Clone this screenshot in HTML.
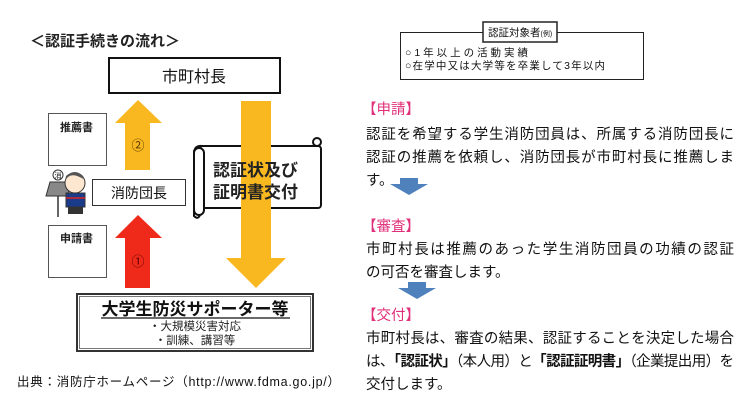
<!DOCTYPE html>
<html><head><meta charset="utf-8"><style>
html,body{margin:0;padding:0;background:#fff;}
svg{display:block}
text{font-family:"Liberation Sans","Noto Sans CJK JP",sans-serif;}
</style></head><body>
<svg width="750" height="412" viewBox="0 0 750 412" xmlns="http://www.w3.org/2000/svg">
<rect width="750" height="412" fill="#fff"/>
<text x="30" y="46" font-size="15" font-weight="bold" fill="#222">＜認証手続きの流れ＞</text>
<rect x="109" y="58" width="171" height="35" fill="#fff" stroke="#111" stroke-width="2"/>
<text x="194" y="82" font-size="16" text-anchor="middle" fill="#111">市町村長</text>
<rect x="48.5" y="113.5" width="58" height="52" fill="#fff" stroke="#555" stroke-width="1"/>
<text x="60" y="131" font-size="11" font-weight="bold" fill="#222">推薦書</text>
<polygon points="125,170 150,170 150,123 162,123 138,100 115,123 125,123" fill="#f9b820"/>
<text x="138" y="150" font-size="13" text-anchor="middle" fill="#553300">②</text>
<text x="256" y="134" font-size="13" text-anchor="middle" fill="#553300">③</text>
<path d="M200,150 L200,215 Q198,220 194,216 L194,151 Q196,145 202,146 L316,146 Q320,138 318,146" fill="none" stroke="#111" stroke-width="2"/>
<rect x="200" y="146" width="121" height="62" rx="3" fill="#fff" stroke="#111" stroke-width="2"/>
<rect x="194" y="148" width="10" height="67" rx="5" fill="#fff" stroke="#111" stroke-width="2"/>
<circle cx="317" cy="142" r="4" fill="#fff" stroke="#111" stroke-width="2"/>
<rect x="241" y="101" width="30" height="158" fill="#f9b820"/>
<polygon points="226,258 286,258 256,288" fill="#f9b820"/>
<text x="213" y="176" font-size="17" font-weight="bold" fill="#222">認証状及び</text>
<text x="213" y="198" font-size="17" font-weight="bold" fill="#222">証明書交付</text>
<g>
<circle cx="58" cy="175" r="5" fill="#fff" stroke="#333"/>
<text x="58" y="178" font-size="7" text-anchor="middle" fill="#111">消</text>
<polygon points="50,182 66,182 70,196 46,196" fill="#888" stroke="#333"/>
<line x1="58" y1="196" x2="58" y2="217" stroke="#333" stroke-width="1.5"/>
<circle cx="75" cy="183" r="10" fill="#fde7d0" stroke="#333"/>
<path d="M65,181 Q70,170 85,180 L83,176 Q75,168 66,176 Z" fill="#555"/>
<rect x="66" y="193" width="19" height="14" fill="#1a3a8a" stroke="#333"/>
<line x1="66" y1="198" x2="85" y2="198" stroke="#d22" stroke-width="1.5"/>
<rect x="68" y="207" width="15" height="7" fill="#333"/>
</g>
<rect x="92.5" y="179.5" width="93" height="26" fill="#fff" stroke="#333"/>
<text x="139" y="198" font-size="14" text-anchor="middle" fill="#111">消防団長</text>
<rect x="48.5" y="225.5" width="58" height="52" fill="#fff" stroke="#555"/>
<text x="60" y="242" font-size="11" font-weight="bold" fill="#222">申請書</text>
<polygon points="125,288 150,288 150,238 162,238 138,215 115,238 125,238" fill="#f02a1a"/>
<text x="138" y="266" font-size="13" text-anchor="middle" fill="#500">①</text>
<rect x="77" y="294" width="236" height="57" fill="#fff" stroke="#333" stroke-width="2"/>
<rect x="79.5" y="296.5" width="231" height="52" fill="none" stroke="#777" stroke-width="1"/>
<text x="195" y="315" font-size="17" font-weight="bold" text-anchor="middle" fill="#111">大学生防災サポーター等</text>
<line x1="101" y1="318" x2="290" y2="318" stroke="#111" stroke-width="1.2"/>
<text x="195" y="330" font-size="11.5" text-anchor="middle" fill="#222">・大規模災害対応</text>
<text x="195" y="344" font-size="11.5" text-anchor="middle" fill="#222">・訓練、講習等</text>
<text x="17" y="386" font-size="12.5" fill="#111" textLength="323">出典：消防庁ホームページ（http://www.fdma.go.jp/）</text>
<rect x="400.5" y="32.5" width="243" height="47" fill="#fff" stroke="#222"/>
<rect x="483" y="22" width="74" height="20" fill="#fff" stroke="#222" stroke-width="1.5"/>
<text x="488" y="36" font-size="10.5" fill="#111">認証対象者<tspan font-size="7">(例)</tspan></text>
<text x="405" y="56" font-size="10.5" fill="#111" textLength="123">○1年以上の活動実績</text>
<text x="405" y="69" font-size="10.5" fill="#111" textLength="200">○在学中又は大学等を卒業して3年以内</text>
<g font-size="14.5" fill="#111">
<text x="362" y="114" fill="#e0307a">【申請】</text>
<text x="366" y="139" textLength="368">認証を希望する学生消防団員は、所属する消防団長に</text>
<text x="366" y="162" textLength="368">認証の推薦を依頼し、消防団長が市町村長に推薦しま</text>
<text x="366" y="185">す。</text>
<text x="362" y="231" fill="#e0307a">【審査】</text>
<text x="366" y="254" textLength="368">市町村長は推薦のあった学生消防団員の功績の認証</text>
<text x="366" y="277">の可否を審査します。</text>
<text x="362" y="320" fill="#e0307a">【交付】</text>
<text x="366" y="343" textLength="368">市町村長は、審査の結果、認証することを決定した場合</text>
<text x="366" y="366" textLength="368">は、<tspan font-weight="bold">「認証状」</tspan>（本人用）と<tspan font-weight="bold">「認証証明書」</tspan>（企業提出用）を</text>
<text x="366" y="389">交付します。</text>
</g>
<polygon points="400,178 418,178 418,184 428,184 409,195 390,184 400,184" fill="#4f81bd"/>
<polygon points="408,282 426,282 426,288 436,288 417,299 398,288 408,288" fill="#4f81bd"/>
</svg>
</body></html>
